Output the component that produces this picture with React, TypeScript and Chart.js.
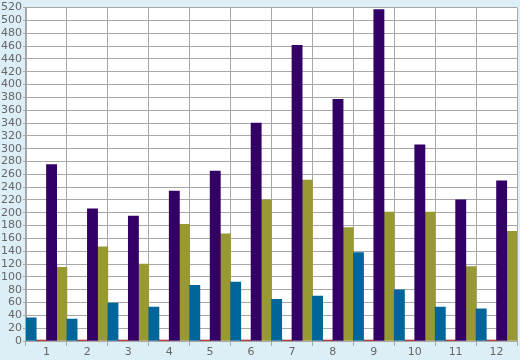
import React, { useEffect, useRef } from "react";
import { Chart, registerables } from "chart.js";

Chart.register(...registerables);

const categories = ["1", "2", "3", "4", "5", "6", "7", "8", "9", "10", "11", "12"];
const tealValues = [36, 34, 59, 53, 87, 92, 65, 70, 138, 80, 53, 50];
const redValues = [1.5, 1.5, 1.5, 1.5, 1.5, 1.5, 1.5, 1.5, 1.5, 1.5, 1.5, 1.5];
const purpleValues = [275, 206, 195, 234, 265, 340, 461, 377, 517, 306, 220, 250];
const oliveValues = [115, 147, 120, 182, 167, 220, 251, 177, 201, 201, 116, 171];

const bgPlugin = {
  id: "bgPlugin",
  beforeDraw(chart: any) {
    const { ctx, chartArea } = chart;
    ctx.save();
    ctx.fillStyle = "#DCEFF6";
    ctx.fillRect(0, 0, chart.width, chart.height);
    ctx.fillStyle = "#FFFFFF";
    ctx.fillRect(chartArea.left, chartArea.top, chartArea.right - chartArea.left, chartArea.bottom - chartArea.top);
    ctx.restore();
  },
};

export default function App() {
  const ref = useRef<HTMLCanvasElement | null>(null);
  useEffect(() => {
    document.body.style.margin = "0";
    const chart = new Chart(ref.current as HTMLCanvasElement, {
      type: "bar",
      data: {
        labels: categories,
        datasets: [
          { data: tealValues, backgroundColor: "#006699" },
          { data: redValues, backgroundColor: "#990000" },
          { data: purpleValues, backgroundColor: "#330066" },
          { data: oliveValues, backgroundColor: "#999933" },
        ],
      },
      options: {
        animation: false,
        responsive: false,
        layout: { padding: { top: 3, right: 3, left: 0, bottom: 1 } },
        datasets: { bar: { categoryPercentage: 1, barPercentage: 1 } },
        plugins: { legend: { display: false }, tooltip: { enabled: false } },
        scales: {
          x: {
            offset: true,
            grid: { offset: true, color: "#A8A8A8", lineWidth: 1, tickLength: 5 },
            border: { color: "#A8A8A8" },
            ticks: { color: "#666666", font: { family: "DejaVu Sans", size: 11, lineHeight: 1 }, padding: 1, maxRotation: 0 },
          },
          y: {
            min: 0,
            max: 520,
            grid: { color: "#A8A8A8", lineWidth: 1, tickLength: 3 },
            border: { color: "#A8A8A8", width: 2 },
            ticks: { stepSize: 20, color: "#666666", font: { family: "DejaVu Sans", size: 11 }, padding: 1, autoSkip: false },
          },
        },
      },
      plugins: [bgPlugin],
    });
    return () => chart.destroy();
  }, []);
  return (
    <div style={{ position: "absolute", left: 0, top: 0, width: 520, height: 360 }}>
      <canvas ref={ref} width={520} height={360} />
    </div>
  );
}
